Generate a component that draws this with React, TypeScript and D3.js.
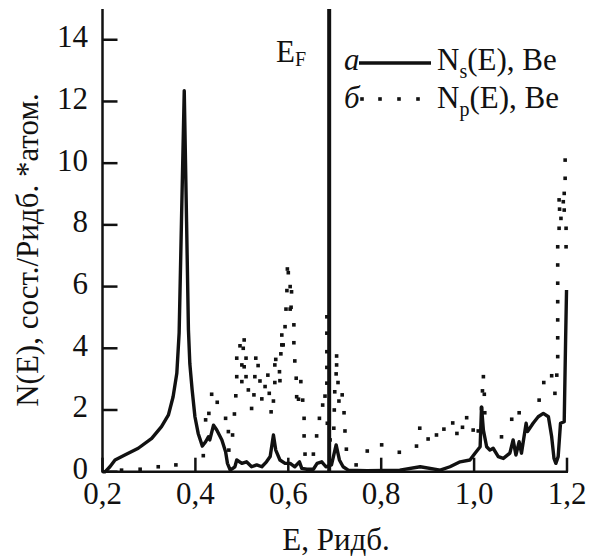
import React from "react";
import * as d3 from "d3";

// N_s(E) - solid curve
const sEnergy = [
  0.2, 0.206, 0.216, 0.227, 0.248, 0.277, 0.306, 0.327, 0.342, 0.352, 0.36,
  0.365, 0.37, 0.376, 0.381, 0.385, 0.388, 0.393, 0.399, 0.406, 0.415, 0.422,
  0.428, 0.431, 0.439, 0.446, 0.457, 0.465, 0.469, 0.475, 0.485, 0.489, 0.5,
  0.51, 0.521, 0.532, 0.543, 0.553, 0.561, 0.568, 0.573, 0.582, 0.593, 0.604,
  0.614, 0.624, 0.629, 0.64, 0.654, 0.662, 0.672, 0.681, 0.693, 0.703, 0.71,
  0.718, 0.729, 0.769, 0.84, 0.884, 0.927, 0.948, 0.97, 0.991, 1.002, 1.013,
  1.016, 1.02, 1.027, 1.034, 1.041, 1.052, 1.063, 1.077, 1.084, 1.09, 1.097,
  1.102, 1.112, 1.115, 1.127, 1.138, 1.149, 1.16, 1.167, 1.172, 1.176, 1.181,
  1.186, 1.194, 1.197, 1.199,
];
const sDos = [
  0, 0, 0.16, 0.38, 0.54, 0.76, 1.08, 1.46, 1.84, 2.43, 3.19, 4.5, 8.1, 12.35,
  8.1, 4.6, 3.5, 2.65, 1.78, 1.24, 0.83, 0.97, 1.13, 1.03, 1.51, 1.35, 1.03,
  0.65, 0.27, 0.05, 0.16, 0.38, 0.27, 0.32, 0.16, 0.22, 0.16, 0.32, 0.49, 1.19,
  0.7, 0.38, 0.27, 0.27, 0.16, 0.32, 0.11, 0.08, 0.08, 0.27, 0.32, 0.16, 0.22,
  0.87, 0.38, 0.16, 0.05, 0.03, 0.05, 0.16, 0.05, 0.16, 0.32, 0.38, 0.6, 0.81,
  2.1, 1.35, 0.81, 0.7, 0.76, 0.49, 0.43, 0.6, 1.03, 0.54, 0.97, 0.6, 1.57,
  1.3, 1.57, 1.78, 1.89, 1.78, 1.13, 0.43, 0.27, 0.49, 1.57, 1.62, 4.27, 5.89,
];

// N_p(E) - dotted
const pEnergy = [
  0.241, 0.281, 0.32, 0.358, 0.417, 0.422, 0.429, 0.435, 0.447, 0.465, 0.471,
  0.472, 0.48, 0.484, 0.487, 0.489, 0.489, 0.496, 0.505, 0.503, 0.5, 0.505,
  0.509, 0.509, 0.5, 0.514, 0.521, 0.526, 0.53, 0.535, 0.528, 0.539, 0.543,
  0.55, 0.556, 0.559, 0.563, 0.568, 0.571, 0.571, 0.573, 0.581, 0.582, 0.584,
  0.586, 0.589, 0.586, 0.593, 0.595, 0.604, 0.606, 0.597, 0.604, 0.607, 0.598,
  0.6, 0.612, 0.612, 0.614, 0.617, 0.618, 0.622, 0.627, 0.631, 0.634, 0.634,
  0.636, 0.654, 0.661, 0.667, 0.674, 0.679, 0.683, 0.683, 0.683, 0.683, 0.683,
  0.684, 0.69, 0.698, 0.699, 0.7, 0.703, 0.704, 0.704, 0.707, 0.709, 0.716,
  0.72, 0.722, 0.725, 0.746, 0.77, 0.801, 0.839, 0.876, 0.883, 0.901, 0.919,
  0.935, 0.954, 0.963, 0.975, 0.984, 0.998, 1.009, 1.016, 1.018, 1.022, 1.02,
  1.023, 1.059, 1.081, 1.097, 1.14, 1.15, 1.167, 1.178, 1.174, 1.18, 1.18,
  1.18, 1.18, 1.18, 1.18, 1.18, 1.198, 1.183, 1.198, 1.187, 1.184, 1.194,
  1.183, 1.192, 1.194, 1.196, 1.196,
];
const pDos = [
  0.05, 0.08, 0.16, 0.22, 0.52, 1.68, 1.89, 2.51, 2.25, 1.73, 1.3, 0.7, 1.19,
  1.87, 2.46, 3.08, 3.68, 4.08, 4.27, 4.0, 3.46, 3.4, 3.68, 3.08, 2.92, 2.65,
  2.05, 2.49, 3.68, 3.44, 3.08, 2.94, 2.36, 2.76, 3.13, 2.54, 1.94, 2.29, 2.89,
  3.46, 3.64, 3.24, 2.95, 3.82, 4.11, 4.11, 4.43, 4.7, 5.27, 5.27, 5.33, 5.87,
  6.0, 5.83, 6.57, 6.45, 4.76, 4.18, 3.59, 3.03, 2.43, 2.35, 2.92, 2.32, 1.73,
  1.16, 0.57, 0.57, 1.16, 1.73, 2.16, 2.45, 2.87, 3.38, 3.89, 4.49, 5.02, 1.57,
  1.03, 1.41, 2.0, 2.59, 3.17, 3.46, 3.75, 2.89, 2.29, 2.49, 1.91, 1.32, 0.73,
  0.22, 0.67, 0.87, 0.63, 0.83, 1.41, 1.06, 1.19, 1.38, 1.58, 1.24, 1.44, 1.75,
  1.35, 1.32, 2.05, 2.62, 2.51, 3.08, 1.91, 1.13, 1.7, 1.91, 2.32, 2.89, 3.11,
  3.13, 2.54, 3.73, 4.34, 4.92, 5.51, 6.11, 6.7, 7.29, 7.29, 7.89, 7.89, 8.21,
  8.51, 8.48, 8.81, 8.75, 9.02, 9.51, 10.1,
];

const xTicks = [0.2, 0.4, 0.6, 0.8, 1.0, 1.2];
const xTickLabels = ["0,2", "0,4", "0,6", "0,8", "1,0", "1,2"];
const yTicks = [0, 2, 4, 6, 8, 10, 12, 14];
const fermiEnergy = 0.688;
const legendDots = [362, 380, 399, 418];

const App = () => {
  const width = 593;
  const height = 558;
  const ink = "#111";

  const x = d3.scaleLinear().domain([0.2, 1.2]).range([102.5, 567]);
  const y = d3.scaleLinear().domain([0, 15]).range([471.7, 8.9]);

  const line = d3
    .line<number>()
    .x((d, i) => x(sEnergy[i]))
    .y((d) => y(d));

  // font set on every text element directly (inheritance from <g> gets overridden)
  const ts = { fontFamily: "Liberation Serif", fontSize: 31, fill: ink };
  const tsItalic = { ...ts, fontStyle: "italic" };
  const sub = { fontFamily: "Liberation Serif", fontSize: 20 };

  return (
    <svg
      width={width}
      height={height}
      style={{ position: "absolute", left: 0, top: 0, background: "#fff" }}
    >
      {/* p dots */}
      <g fill={ink}>
        {pEnergy.map((e, i) => (
          <rect key={i} x={x(e) - 1.8} y={y(pDos[i]) - 1.8} width={3.6} height={3.6} />
        ))}
      </g>

      {/* s curve */}
      <path
        d={line(sDos) || ""}
        fill="none"
        stroke={ink}
        strokeWidth={3.4}
        strokeLinejoin="round"
      />

      {/* Fermi level */}
      <line
        x1={x(fermiEnergy)}
        x2={x(fermiEnergy)}
        y1={y(0)}
        y2={y(15)}
        stroke={ink}
        strokeWidth={4}
      />

      {/* axes */}
      <g stroke={ink} strokeWidth={2.5}>
        <line x1={x(0.2)} x2={x(0.2)} y1={y(0)} y2={y(15)} />
        <line x1={x(0.2) - 1} x2={x(1.2) + 1} y1={y(0)} y2={y(0)} />
        {yTicks.map((t) => (
          <line key={"y" + t} x1={x(0.2)} x2={x(0.2) + 15} y1={y(t)} y2={y(t)} />
        ))}
        {xTicks.map((t) => (
          <line key={"x" + t} x1={x(t)} x2={x(t)} y1={y(0)} y2={y(0) - 14} />
        ))}
      </g>

      {yTicks.map((t) => (
        <text key={"yl" + t} x={88} y={y(t) + 7.5} textAnchor="end" style={ts}>
          {t}
        </text>
      ))}
      {xTicks.map((t, i) => (
        <text key={"xl" + t} x={x(t)} y={504} textAnchor="middle" style={ts}>
          {xTickLabels[i]}
        </text>
      ))}
      <text x={336} y={550} textAnchor="middle" style={ts}>
        E, Ридб.
      </text>
      <text transform="translate(38,250) rotate(-90)" textAnchor="middle" style={ts}>
        N(E), сост./Ридб. *атом.
      </text>

      {/* E_F label */}
      <text x={276} y={62} style={ts}>
        E
        <tspan style={sub} dy={4}>
          F
        </tspan>
      </text>

      {/* legend */}
      <text x={344} y={70} style={tsItalic}>
        а
      </text>
      <text x={437} y={70} style={ts}>
        N
        <tspan style={sub} dy={8}>
          s
        </tspan>
        <tspan dy={-8}>(E), Be</tspan>
      </text>
      <text x={344} y={108} style={tsItalic}>
        б
      </text>
      <text x={437} y={108} style={ts}>
        N
        <tspan style={sub} dy={8}>
          p
        </tspan>
        <tspan dy={-8}>(E), Be</tspan>
      </text>

      <line x1={359} x2={431} y1={63} y2={63} stroke={ink} strokeWidth={3.4} />
      <g fill={ink}>
        {legendDots.map((d) => (
          <rect key={d} x={d - 1.8} y={97.2} width={3.6} height={3.6} />
        ))}
      </g>
    </svg>
  );
};

export default App;
